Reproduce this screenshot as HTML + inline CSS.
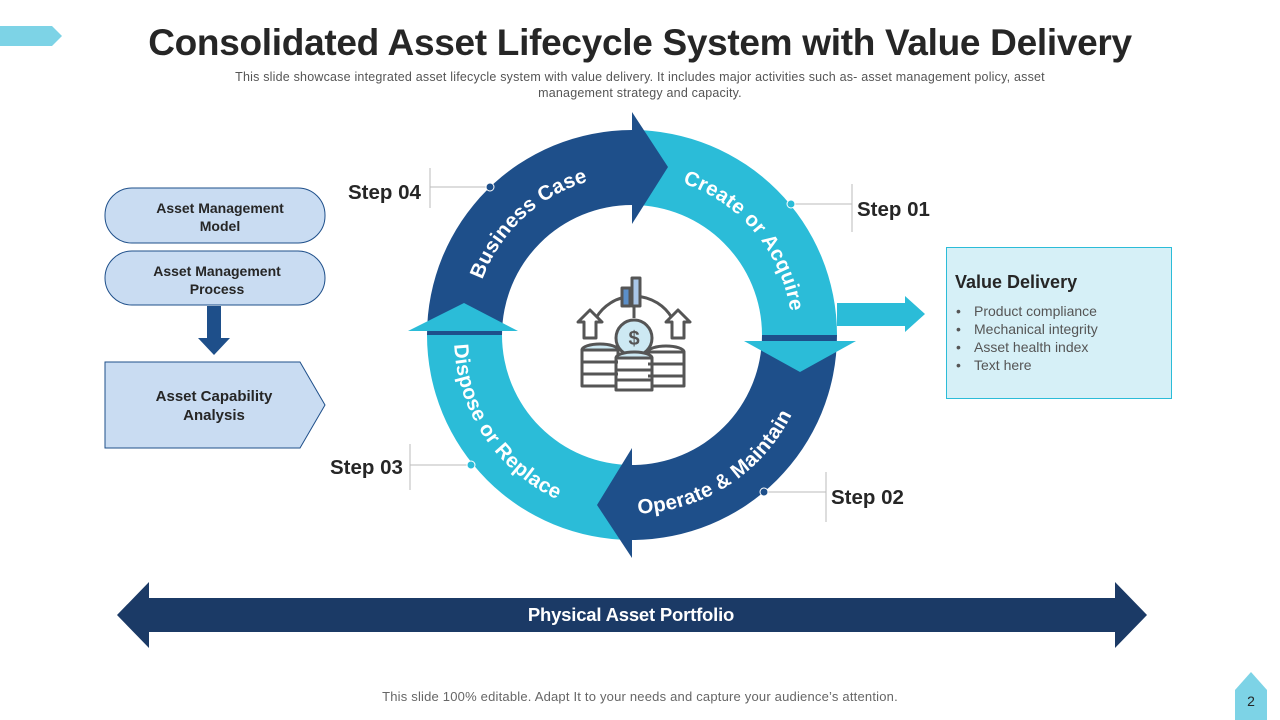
<!DOCTYPE html>
<html><head><meta charset="utf-8"><style>
html,body{margin:0;padding:0;background:#fff;}
svg{display:block;font-family:"Liberation Sans",Arial,sans-serif;}
</style></head><body>
<svg width="1280" height="720" viewBox="0 0 1280 720" xmlns="http://www.w3.org/2000/svg">
<polygon points="0,26 52,26 62,36 52,46 0,46" fill="#7dd3e6"/>
<text x="640" y="55" text-anchor="middle" font-size="37" font-weight="bold" fill="#262626" letter-spacing="-0.3">Consolidated Asset Lifecycle System with Value Delivery</text>
<text x="640" y="81" text-anchor="middle" font-size="12.5" fill="#555" letter-spacing="0.2">This slide showcase integrated  asset lifecycle system with value  delivery.  It includes major activities such as- asset management  policy, asset</text>
<text x="640" y="97" text-anchor="middle" font-size="12.5" fill="#555" letter-spacing="0.2">management  strategy and capacity.</text>

<path d="M427,335 A205,205 0 0 1 632,130 L632,205 A130,130 0 0 0 502,335 Z" fill="#1e4f8a"/>
<path d="M632,130 A205,205 0 0 1 837,335 L762,335 A130,130 0 0 0 632,205 Z" fill="#2bbcd8"/>
<path d="M837,335 A205,205 0 0 1 632,540 L632,465 A130,130 0 0 0 762,335 Z" fill="#1e4f8a"/>
<path d="M632,540 A205,205 0 0 1 427,335 L502,335 A130,130 0 0 0 632,465 Z" fill="#2bbcd8"/>
<polygon points="632,112 632,224 668,167" fill="#1e4f8a"/>
<polygon points="744,341 856,341 800,372" fill="#2bbcd8"/>
<polygon points="632,448 632,558 597,505" fill="#1e4f8a"/>
<polygon points="518,331 408,331 464,303" fill="#2bbcd8"/>

<defs>
<path id="pB" d="M494.9,417 A160,160 0 0 1 724,204"/>
<path id="pC" d="M632,175 A160,160 0 0 1 789.6,362.8"/>
<path id="pO" d="M519,473 A178,178 0 0 0 804,289"/>
<path id="pD" d="M459.6,294.1 A178,178 0 0 0 605.8,514"/>
</defs>
<g font-size="20.5" font-weight="bold" fill="#fff" letter-spacing="0.3">
<text><textPath href="#pB" startOffset="50%" text-anchor="middle">Business Case</textPath></text>
<text><textPath href="#pC" startOffset="50%" text-anchor="middle">Create or Acquire</textPath></text>
<text><textPath href="#pO" startOffset="50%" text-anchor="middle">Operate &amp; Maintain</textPath></text>
<text><textPath href="#pD" startOffset="50%" text-anchor="middle">Dispose or Replace</textPath></text>
</g>

<g stroke="#555" stroke-width="3" fill="none" stroke-linejoin="round">
<path d="M596,318 A44,44 0 0 1 672,318"/>
<rect x="622" y="288" width="8" height="18" fill="#5b8fc9"/>
<rect x="632" y="278" width="8" height="28" fill="#a9c6e8"/>
<line x1="634" y1="306" x2="634" y2="318"/>
<polygon points="578,322 590,310 602,322 596,322 596,338 584,338 584,322" fill="#fff"/>
<polygon points="666,322 678,310 690,322 684,322 684,338 672,338 672,322" fill="#fff"/>
<ellipse cx="600" cy="350" rx="18" ry="6" fill="#cde9f3"/>
<rect x="582" y="350" width="36" height="36" fill="#fff"/>
<ellipse cx="666" cy="352" rx="18" ry="6" fill="#fff"/>
<rect x="648" y="352" width="36" height="34" fill="#fff"/>
<circle cx="634" cy="338" r="18" fill="#cde9f3"/>
<ellipse cx="634" cy="358" rx="18" ry="6" fill="#cde9f3"/>
<rect x="616" y="358" width="36" height="32" fill="#fff"/>
<line x1="582" y1="362" x2="618" y2="362"/><line x1="582" y1="374" x2="618" y2="374"/>
<line x1="616" y1="370" x2="652" y2="370"/><line x1="616" y1="380" x2="652" y2="380"/>
<line x1="648" y1="364" x2="684" y2="364"/><line x1="648" y1="376" x2="684" y2="376"/>
</g>
<text x="634" y="345" text-anchor="middle" font-size="20" font-weight="bold" fill="#555">$</text>

<g stroke="#bbb" stroke-width="1" fill="none">
<line x1="430" y1="168" x2="430" y2="208"/><line x1="430" y1="187" x2="490" y2="187"/>
<line x1="852" y1="184" x2="852" y2="232"/><line x1="791" y1="204" x2="852" y2="204"/>
<line x1="410" y1="444" x2="410" y2="490"/><line x1="410" y1="465" x2="471" y2="465"/>
<line x1="826" y1="472" x2="826" y2="522"/><line x1="764" y1="492" x2="826" y2="492"/>
</g>
<circle cx="490" cy="187" r="4" fill="#1e4f8a" stroke="#fff"/>
<circle cx="791" cy="204" r="4" fill="#2bbcd8" stroke="#fff"/>
<circle cx="471" cy="465" r="4" fill="#2bbcd8" stroke="#fff"/>
<circle cx="764" cy="492" r="4" fill="#1e4f8a" stroke="#fff"/>
<g font-size="20.5" font-weight="bold" fill="#262626">
<text x="348" y="199">Step 04</text>
<text x="857" y="216">Step 01</text>
<text x="330" y="474">Step 03</text>
<text x="831" y="504">Step 02</text>
</g>

<rect x="105" y="188" width="220" height="55" rx="27" fill="#c9dcf2" stroke="#1e4f8a"/>
<rect x="105" y="251" width="220" height="54" rx="27" fill="#c9dcf2" stroke="#1e4f8a"/>
<g font-size="14" font-weight="bold" fill="#262626" text-anchor="middle">
<text x="220" y="213">Asset Management</text><text x="220" y="231">Model</text>
<text x="217" y="276">Asset Management</text><text x="217" y="294">Process</text>
</g>
<polygon points="207,306 221,306 221,338 230,338 214,355 198,338 207,338" fill="#1e4f8a"/>
<polygon points="105,362 300,362 325,405 300,448 105,448" fill="#c9dcf2" stroke="#1e4f8a"/>
<g font-size="15" font-weight="bold" fill="#262626" text-anchor="middle">
<text x="214" y="401">Asset Capability</text><text x="214" y="420">Analysis</text>
</g>

<polygon points="837,303 905,303 905,296 925,314 905,332 905,326 837,326" fill="#2bbcd8"/>
<rect x="946.5" y="247.5" width="225" height="151" fill="#d6f0f7" stroke="#2bbcd8"/>
<text x="955" y="288" font-size="18" font-weight="bold" fill="#262626">Value Delivery</text>
<g font-size="14" fill="#555">
<text x="956" y="316">•</text><text x="974" y="316">Product compliance</text>
<text x="956" y="334">•</text><text x="974" y="334">Mechanical integrity</text>
<text x="956" y="352">•</text><text x="974" y="352">Asset health index</text>
<text x="956" y="370">•</text><text x="974" y="370">Text here</text>
</g>

<polygon points="117,615 149,582 149,598 1115,598 1115,582 1147,615 1115,648 1115,632 149,632 149,648" fill="#1b3a66"/>
<text x="631" y="621" text-anchor="middle" font-size="18.5" font-weight="bold" fill="#fff" letter-spacing="-0.2">Physical Asset Portfolio</text>
<text x="640" y="701" text-anchor="middle" font-size="13" fill="#666" letter-spacing="0.2">This slide 100% editable.  Adapt  It to your needs and capture your audience’s attention.</text>
<polygon points="1235,690 1251,672 1267,690 1267,720 1235,720" fill="#7dd3e6"/>
<text x="1251" y="706" text-anchor="middle" font-size="14" fill="#262626">2</text>
</svg>
</body></html>
